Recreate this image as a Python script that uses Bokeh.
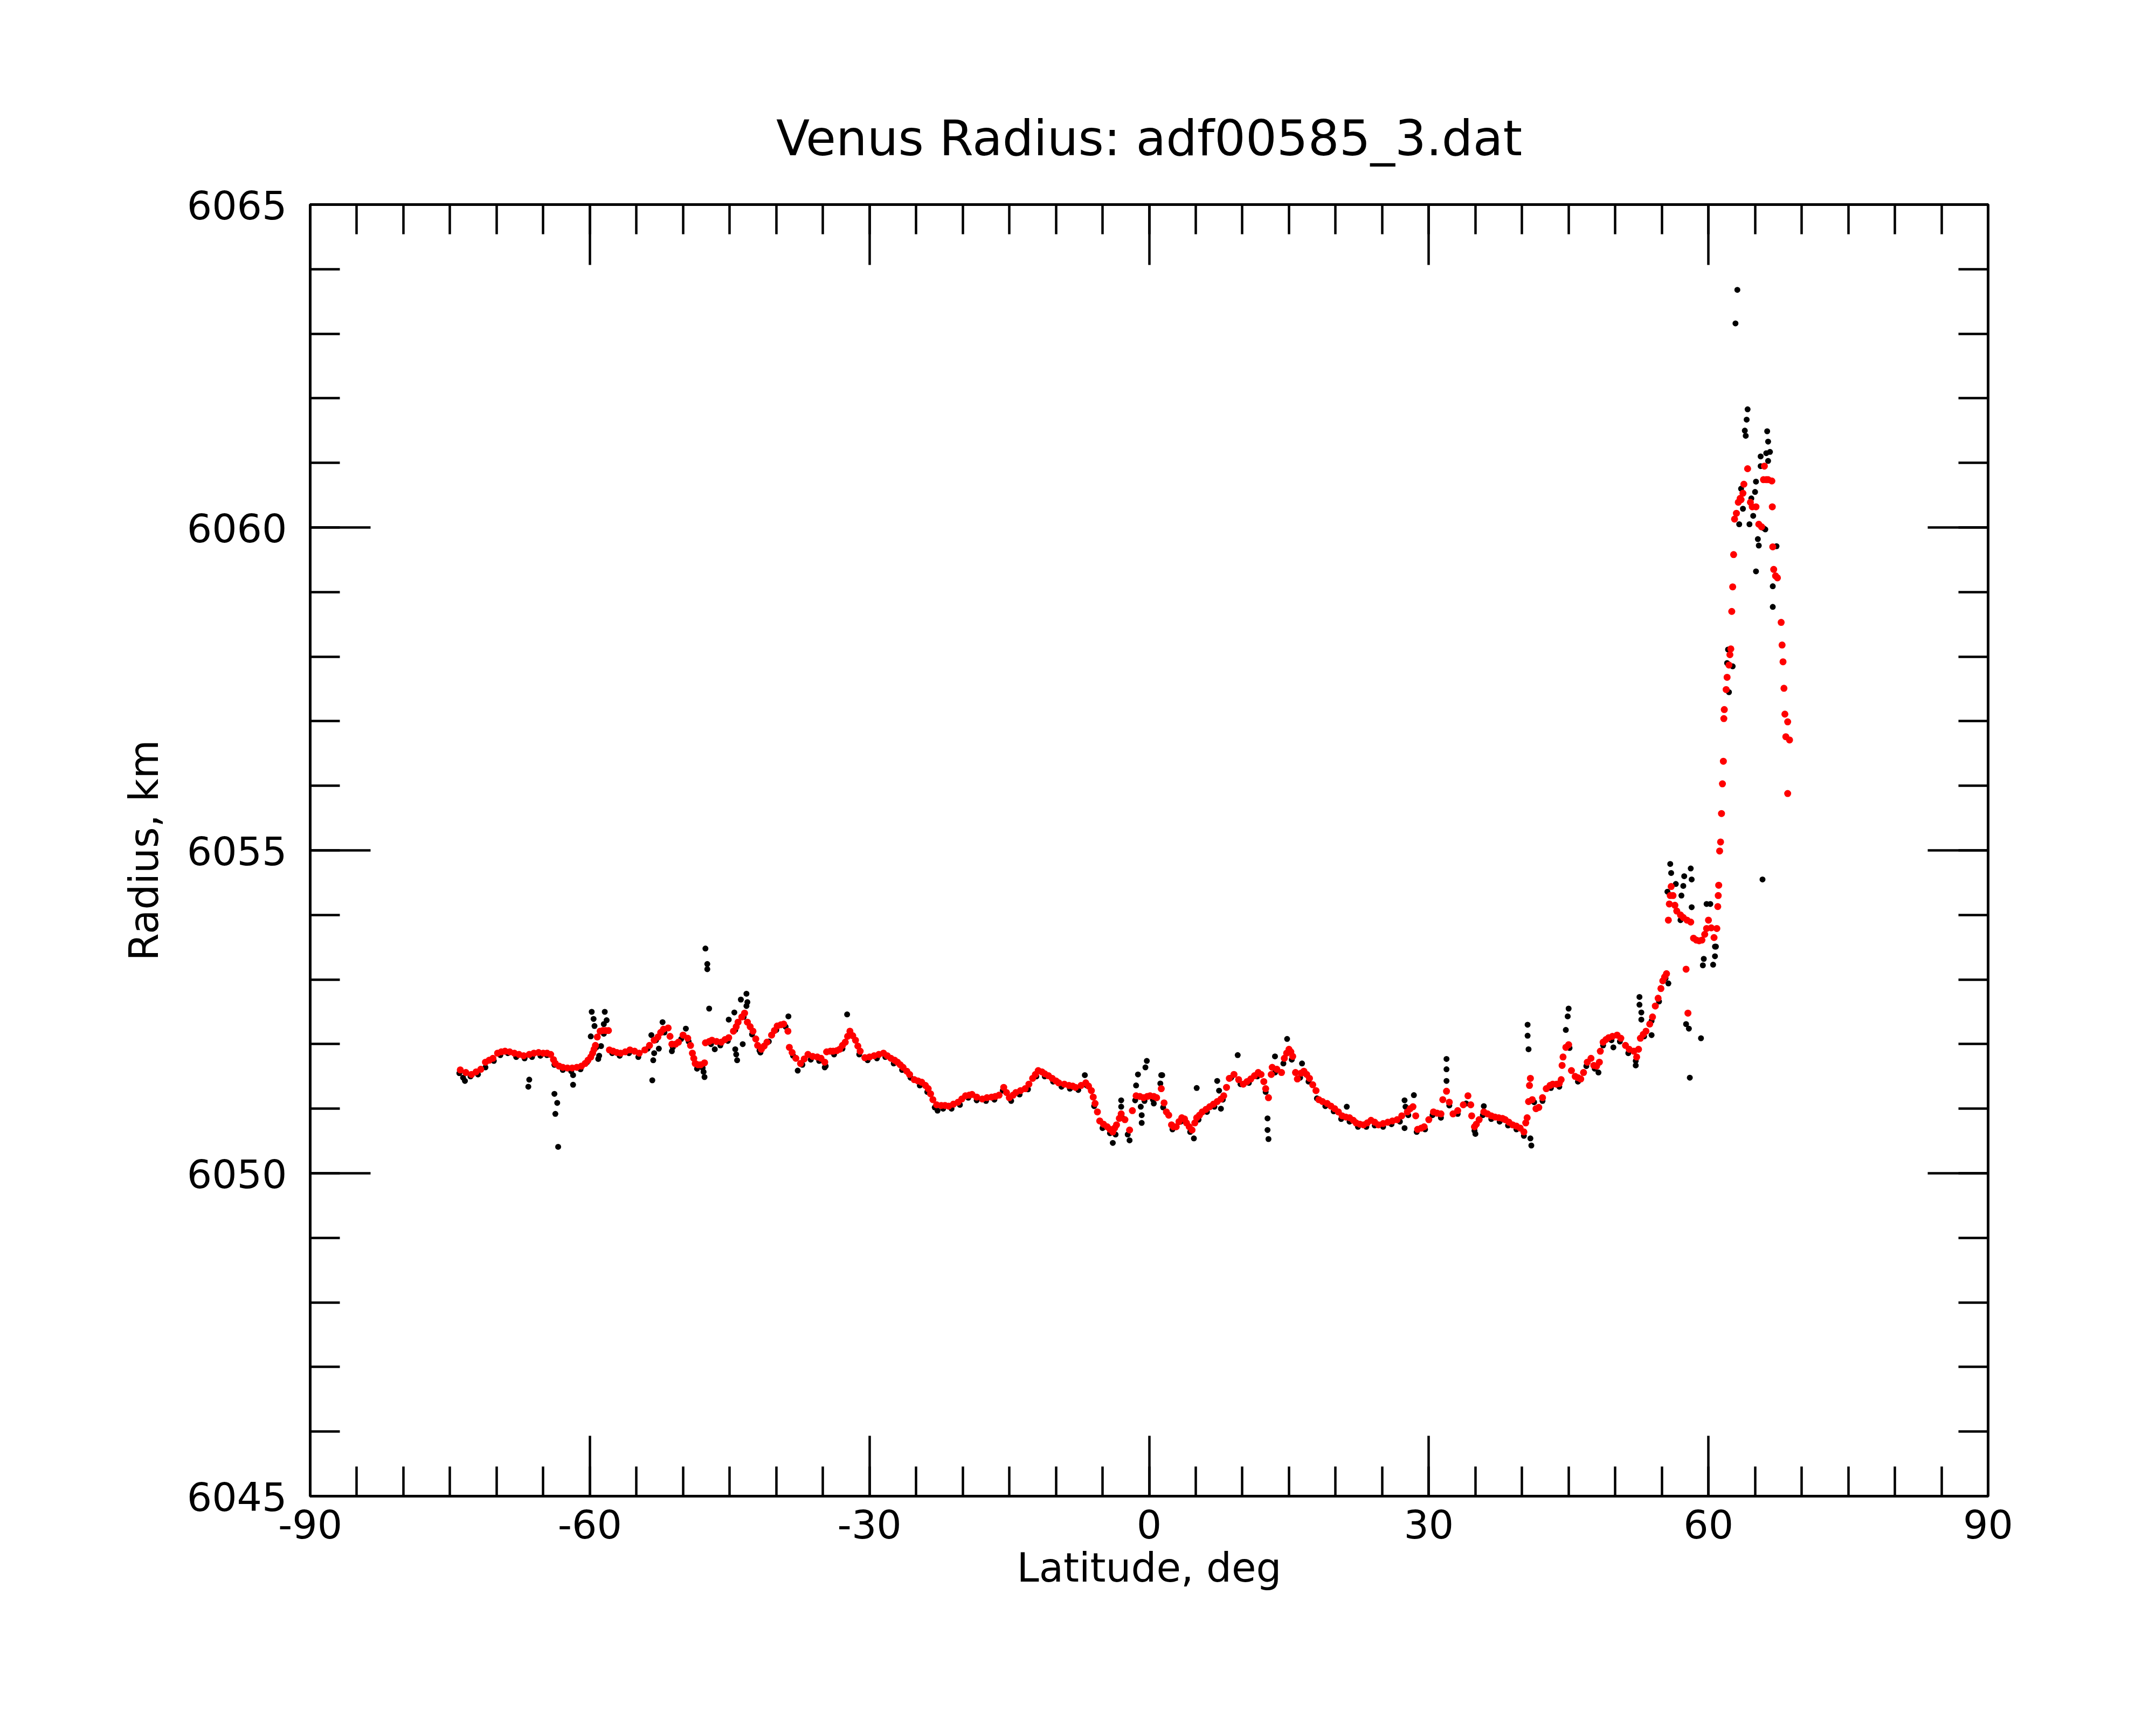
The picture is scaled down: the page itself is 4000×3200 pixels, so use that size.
from bokeh.plotting import figure
from bokeh.models import LinearAxis, SingleIntervalTicker, CustomJSTickFormatter, Range1d
from bokeh.embed import file_html
from bokeh.resources import INLINE

TITLE = "Venus Radius: adf00585_3.dat"
X_LABEL = "Latitude, deg"
Y_LABEL = "Radius, km"

# ---- smoothed radius (red), (latitude deg, radius km) ----
red_south = [
    (-73.9, 6051.60), (-73.3, 6051.56), (-72.7, 6051.53), (-72.2, 6051.57), (-71.7, 6051.61),
    (-71.2, 6051.72), (-70.8, 6051.75), (-70.4, 6051.78), (-69.9, 6051.86), (-69.5, 6051.88),
    (-69.1, 6051.89), (-68.6, 6051.88), (-68.1, 6051.86), (-67.6, 6051.84), (-67.1, 6051.82),
    (-66.5, 6051.84), (-66.0, 6051.86), (-65.5, 6051.87), (-65.0, 6051.86), (-64.6, 6051.86),
    (-64.2, 6051.84), (-63.9, 6051.76), (-63.7, 6051.70), (-63.3, 6051.66), (-62.9, 6051.64),
    (-62.4, 6051.63), (-61.9, 6051.63), (-61.4, 6051.64), (-60.9, 6051.66), (-60.5, 6051.70),
    (-60.2, 6051.75), (-59.9, 6051.80), (-59.7, 6051.86), (-59.55, 6051.92), (-59.4, 6051.98),
    (-59.2, 6052.11), (-58.9, 6052.20), (-58.6, 6052.21), (-58.3, 6052.21), (-58.0, 6052.21),
    (-57.9, 6051.91), (-57.5, 6051.89), (-57.1, 6051.87), (-56.7, 6051.86), (-56.2, 6051.88),
    (-55.7, 6051.91), (-55.2, 6051.89), (-54.7, 6051.86), (-54.1, 6051.91), (-53.6, 6051.98),
    (-53.1, 6052.06), (-52.7, 6052.11), (-52.4, 6052.18), (-52.1, 6052.23), (-51.6, 6052.25),
    (-51.4, 6052.12), (-51.2, 6052.00), (-50.8, 6052.00), (-50.5, 6052.03), (-50.0, 6052.14),
    (-49.5, 6052.09), (-49.2, 6051.98), (-49.0, 6051.86), (-48.85, 6051.78), (-48.7, 6051.70),
    (-48.4, 6051.68), (-48.1, 6051.68), (-47.7, 6051.71),
    (-47.6, 6052.02), (-47.2, 6052.04), (-46.9, 6052.06), (-46.4, 6052.04), (-45.9, 6052.03),
    (-45.5, 6052.07), (-45.1, 6052.10), (-44.6, 6052.20), (-44.3, 6052.27), (-44.1, 6052.34),
    (-43.7, 6052.42), (-43.4, 6052.48), (-43.1, 6052.34), (-42.8, 6052.27), (-42.5, 6052.20),
    (-42.2, 6052.08), (-42.0, 6051.98), (-41.6, 6051.92), (-41.3, 6051.97), (-41.0, 6052.03),
    (-40.5, 6052.14), (-40.2, 6052.21), (-39.9, 6052.28), (-39.5, 6052.30), (-39.2, 6052.31),
    (-38.75, 6052.20),
    (-38.6, 6051.95), (-38.3, 6051.87), (-37.9, 6051.78), (-37.4, 6051.70), (-37.0, 6051.77),
    (-36.6, 6051.84),
]

red_mid = [
    (-36.1, 6051.81), (-35.6, 6051.80), (-35.2, 6051.78), (-34.8, 6051.72), (-34.6, 6051.88),
    (-34.2, 6051.89), (-33.9, 6051.89), (-33.5, 6051.90), (-33.2, 6051.92), (-32.9, 6051.98),
    (-32.6, 6052.03), (-32.35, 6052.12), (-32.1, 6052.20), (-31.8, 6052.13), (-31.5, 6052.06),
    (-31.25, 6051.97), (-31.0, 6051.89), (-30.5, 6051.79), (-30.0, 6051.80), (-29.5, 6051.82),
    (-29.0, 6051.84), (-28.5, 6051.86), (-28.1, 6051.82), (-27.7, 6051.78), (-27.3, 6051.75),
    (-27.0, 6051.72), (-26.7, 6051.68), (-26.4, 6051.64), (-26.0, 6051.58), (-25.7, 6051.53),
    (-25.2, 6051.45), (-24.8, 6051.43), (-24.4, 6051.41), (-24.0, 6051.36), (-23.7, 6051.31),
    (-23.45, 6051.23), (-23.2, 6051.14), (-22.8, 6051.06), (-22.3, 6051.05), (-21.9, 6051.05),
    (-21.5, 6051.04), (-21.0, 6051.07), (-20.5, 6051.10), (-20.1, 6051.15), (-19.7, 6051.20),
    (-19.3, 6051.21), (-19.0, 6051.22), (-18.5, 6051.18), (-17.9, 6051.15), (-17.4, 6051.17),
    (-16.9, 6051.18), (-16.5, 6051.19), (-16.1, 6051.21), (-15.6, 6051.33), (-15.3, 6051.25),
    (-15.0, 6051.17), (-14.6, 6051.21), (-14.3, 6051.25), (-13.8, 6051.28), (-13.3, 6051.31),
    (-12.9, 6051.38), (-12.5, 6051.47), (-12.2, 6051.53), (-11.9, 6051.59), (-11.5, 6051.57),
    (-11.2, 6051.54), (-10.8, 6051.51), (-10.4, 6051.47), (-10.0, 6051.43), (-9.7, 6051.40),
    (-9.1, 6051.38), (-8.6, 6051.36), (-8.2, 6051.35), (-7.9, 6051.33), (-7.3, 6051.36),
    (-6.8, 6051.40), (-6.5, 6051.35), (-6.2, 6051.28), (-6.0, 6051.18), (-5.8, 6051.08),
    (-5.55, 6050.95), (-5.3, 6050.81), (-4.9, 6050.76), (-4.5, 6050.72), (-4.2, 6050.68),
    (-3.9, 6050.64), (-3.7, 6050.70), (-3.5, 6050.75), (-3.2, 6050.85), (-3.0, 6050.92),
    (-2.6, 6050.83), (-2.1, 6050.67), (-1.8, 6050.97), (-1.4, 6051.20), (-1.0, 6051.19),
    (-0.6, 6051.17), (-0.2, 6051.19), (0.1, 6051.20), (0.5, 6051.19), (0.8, 6051.17),
    (1.3, 6051.31), (1.6, 6051.09), (1.85, 6050.95), (2.1, 6050.90), (2.4, 6050.75),
    (2.6, 6050.72), (2.9, 6050.72), (3.2, 6050.80), (3.5, 6050.86), (3.8, 6050.84),
]

red_north = [
    (4.0, 6050.78), (4.3, 6050.72), (4.6, 6050.67), (4.9, 6050.78), (5.1, 6050.86),
    (5.4, 6050.90), (5.7, 6050.95), (6.1, 6050.99), (6.5, 6051.03), (6.9, 6051.07),
    (7.3, 6051.11), (7.7, 6051.15), (8.0, 6051.20), (8.3, 6051.33), (8.6, 6051.47),
    (9.1, 6051.53), (9.6, 6051.45), (10.1, 6051.38), (10.5, 6051.42), (10.9, 6051.46),
    (11.3, 6051.51), (11.7, 6051.56), (12.0, 6051.53), (12.3, 6051.42), (12.5, 6051.31),
    (12.8, 6051.17), (13.1, 6051.53), (13.2, 6051.64), (13.7, 6051.61), (14.2, 6051.56),
    (14.5, 6051.78), (14.75, 6051.86), (15.0, 6051.92), (15.2, 6051.88), (15.4, 6051.81),
    (15.7, 6051.56), (15.9, 6051.46), (16.3, 6051.55), (16.6, 6051.58), (16.9, 6051.53),
    (17.2, 6051.47), (17.55, 6051.37), (17.9, 6051.28), (18.2, 6051.14), (18.6, 6051.11),
    (19.1, 6051.08), (19.5, 6051.04), (19.9, 6051.00), (20.3, 6050.95), (20.7, 6050.89),
    (21.1, 6050.87), (21.5, 6050.86), (21.9, 6050.82), (22.2, 6050.78), (22.6, 6050.76),
    (23.0, 6050.75), (23.4, 6050.78), (23.8, 6050.82), (24.2, 6050.79), (24.6, 6050.75),
    (25.1, 6050.77), (25.6, 6050.79), (26.1, 6050.81), (26.6, 6050.83), (27.1, 6050.89),
    (27.7, 6050.95), (28.0, 6051.00), (28.3, 6051.03), (28.6, 6050.89), (28.8, 6050.68),
    (29.2, 6050.70), (29.5, 6050.72), (30.0, 6050.83), (30.5, 6050.95), (30.9, 6050.93),
    (31.3, 6050.92), (31.5, 6051.14), (31.9, 6051.27), (32.2, 6051.10), (32.6, 6050.92),
    (33.1, 6050.97), (33.7, 6051.06), (34.2, 6051.20), (34.5, 6051.06), (34.6, 6050.89),
    (34.9, 6050.72), (35.1, 6050.76), (35.4, 6050.83), (35.9, 6050.95), (36.3, 6050.92),
    (36.7, 6050.89), (37.1, 6050.87), (37.5, 6050.86), (37.9, 6050.85), (38.2, 6050.83),
    (38.6, 6050.79), (39.0, 6050.75), (39.4, 6050.73), (39.8, 6050.70), (40.2, 6050.64),
    (40.4, 6050.78), (40.55, 6050.86), (40.7, 6051.11), (40.8, 6051.36), (40.9, 6051.47),
]

red_polar = [
    (41.1, 6051.14), (41.5, 6051.00), (41.8, 6051.02), (42.2, 6051.17), (42.6, 6051.31),
    (43.0, 6051.36), (43.3, 6051.38), (43.7, 6051.38), (44.0, 6051.39), (44.2, 6051.45),
    (44.3, 6051.67), (44.4, 6051.80), (44.7, 6051.95), (45.0, 6051.99), (45.3, 6051.59),
    (45.7, 6051.50), (46.0, 6051.48), (46.3, 6051.46), (46.6, 6051.56), (47.0, 6051.72),
    (47.4, 6051.78), (47.7, 6051.67), (48.0, 6051.66), (48.3, 6051.72), (48.4, 6051.89),
    (48.7, 6052.03), (49.0, 6052.07), (49.3, 6052.10), (49.7, 6052.12), (50.2, 6052.14),
    (50.6, 6052.09), (51.1, 6051.98), (51.5, 6051.92), (52.0, 6051.89), (52.3, 6051.80),
    (52.5, 6051.92), (52.7, 6052.09), (53.0, 6052.15), (53.3, 6052.20), (53.7, 6052.31),
    (54.0, 6052.42), (54.3, 6052.59), (54.6, 6052.71), (54.9, 6052.86), (55.1, 6052.98),
    (55.3, 6053.04), (55.5, 6053.09), (57.6, 6053.16), (57.8, 6052.48),
    (55.7, 6053.92), (55.8, 6054.17), (55.9, 6054.30), (56.0, 6054.44), (56.2, 6054.30),
    (56.4, 6054.15), (56.6, 6054.06), (57.0, 6054.00), (57.3, 6053.96), (57.7, 6053.92),
    (58.1, 6053.89), (58.4, 6053.64), (58.7, 6053.61), (59.0, 6053.60), (59.3, 6053.61),
    (59.6, 6053.70), (59.8, 6053.79), (60.0, 6053.92), (60.3, 6053.80), (60.6, 6053.65),
    (60.9, 6053.79), (61.0, 6054.13), (61.05, 6054.30), (61.1, 6054.46), (61.2, 6054.99),
    (61.3, 6055.13), (61.4, 6055.57), (61.5, 6056.03), (61.6, 6056.38), (61.65, 6057.04),
    (61.7, 6057.18), (61.9, 6057.49), (62.0, 6057.68), (62.2, 6057.87), (62.3, 6058.03),
    (62.4, 6058.12), (62.5, 6058.70), (62.6, 6059.08), (62.7, 6059.58), (62.8, 6060.13),
    (63.0, 6060.22), (63.2, 6060.39), (63.4, 6060.45), (63.5, 6060.43), (63.7, 6060.53),
    (63.8, 6060.67), (64.2, 6060.91), (64.5, 6060.39), (64.7, 6060.32), (65.1, 6060.32),
    (65.4, 6060.05), (65.7, 6060.01), (65.9, 6060.74), (66.0, 6060.95), (66.2, 6060.74),
    (66.4, 6060.74), (66.8, 6060.72), (66.85, 6060.32), (66.9, 6059.70), (67.0, 6059.35),
    (67.2, 6059.25), (67.4, 6059.22), (67.8, 6058.53), (67.9, 6058.18), (68.0, 6057.92),
    (68.1, 6057.51), (68.2, 6057.11), (68.3, 6056.76), (68.5, 6056.99), (68.7, 6056.71),
    (68.5, 6055.88),
]

# ---- raw radius (black), main track ----
raw_track = [
    (-74.0, 6051.55), (-73.6, 6051.48), (-72.8, 6051.50), (-72.0, 6051.53), (-71.2, 6051.64),
    (-70.3, 6051.74), (-69.6, 6051.83), (-68.8, 6051.86), (-67.9, 6051.80), (-67.0, 6051.78),
    (-66.2, 6051.80), (-65.3, 6051.82), (-64.6, 6051.83), (-63.8, 6051.68), (-62.9, 6051.60),
    (-62.0, 6051.58), (-61.0, 6051.61), (-60.3, 6051.72), (-59.3, 6051.95), (-58.5, 6052.16),
    (-57.6, 6051.86), (-56.8, 6051.82), (-55.8, 6051.86), (-54.8, 6051.80), (-53.8, 6051.93),
    (-52.9, 6052.06), (-52.0, 6052.18), (-51.1, 6051.95), (-50.2, 6052.08), (-49.4, 6052.04),
    (-48.5, 6051.62), (-47.9, 6051.63), (-47.0, 6052.00), (-46.0, 6051.98), (-45.2, 6052.05),
    (-44.4, 6052.22), (-43.5, 6052.42), (-42.6, 6052.15), (-41.7, 6051.87), (-40.8, 6052.04),
    (-40.0, 6052.22), (-39.0, 6052.27), (-38.2, 6051.82), (-37.2, 6051.68), (-36.3, 6051.76),
    (-35.4, 6051.74), (-34.7, 6051.66), (-33.8, 6051.84), (-32.9, 6051.93), (-32.0, 6052.15),
    (-31.1, 6051.84), (-30.2, 6051.75), (-29.2, 6051.78), (-28.3, 6051.80), (-27.4, 6051.70),
    (-26.5, 6051.60), (-25.6, 6051.48), (-24.6, 6051.36), (-23.8, 6051.26), (-23.0, 6051.02),
    (-22.1, 6051.00), (-21.2, 6051.00), (-20.3, 6051.06), (-19.4, 6051.17), (-18.5, 6051.13),
    (-17.5, 6051.12), (-16.6, 6051.14), (-15.7, 6051.28), (-14.8, 6051.12), (-13.9, 6051.22),
    (-13.0, 6051.30), (-12.1, 6051.50), (-11.2, 6051.50), (-10.3, 6051.42), (-9.4, 6051.34),
    (-8.5, 6051.31), (-7.6, 6051.29), (-6.7, 6051.36), (-5.9, 6051.04), (-5.0, 6050.70),
    (-4.2, 6050.62), (-3.6, 6050.60), (-2.9, 6050.86), (-2.3, 6050.60), (-1.5, 6051.13),
    (-0.5, 6051.12), (0.4, 6051.14), (1.5, 6051.02), (2.5, 6050.68), (3.4, 6050.80),
    (4.4, 6050.64), (5.3, 6050.83), (6.2, 6050.95), (7.0, 6051.03), (7.9, 6051.14),
    (8.8, 6051.48), (9.8, 6051.38), (10.7, 6051.40), (11.6, 6051.50), (12.5, 6051.26),
    (13.5, 6051.56), (14.4, 6051.70), (15.3, 6051.76), (16.2, 6051.48), (17.1, 6051.42),
    (18.0, 6051.16), (18.9, 6051.04), (19.8, 6050.96), (20.6, 6050.84), (21.5, 6050.80),
    (22.4, 6050.72), (23.3, 6050.72), (24.2, 6050.74), (25.1, 6050.72), (26.0, 6050.76),
    (26.9, 6050.80), (27.8, 6050.90), (28.7, 6050.64), (29.6, 6050.68), (30.4, 6050.90),
    (31.3, 6050.86), (32.2, 6051.05), (33.1, 6050.92), (34.0, 6051.08), (34.9, 6050.66),
    (35.8, 6050.90), (36.7, 6050.84), (37.6, 6050.80), (38.5, 6050.74), (39.4, 6050.68),
    (40.2, 6050.58), (41.3, 6051.10), (42.2, 6051.12), (43.1, 6051.32), (44.0, 6051.34),
    (45.1, 6051.94), (46.0, 6051.42), (46.9, 6051.66), (47.8, 6051.62), (48.7, 6051.98),
    (49.6, 6052.06), (50.5, 6052.04), (51.4, 6051.86), (52.2, 6051.74), (53.1, 6052.12),
    (53.9, 6052.36), (54.7, 6052.66), (55.4, 6053.02),
]

# ---- raw radius (black), scattered points ----
raw_scatter_south = [
    (-73.4, 6051.43), (-66.5, 6051.45), (-66.6, 6051.34), (-63.8, 6051.23), (-63.5, 6051.09),
    (-63.7, 6050.92), (-63.4, 6050.41), (-61.8, 6051.52), (-61.8, 6051.37), (-59.8, 6052.50),
    (-59.6, 6052.39), (-59.5, 6052.28), (-59.9, 6052.12), (-58.8, 6051.97), (-59.0, 6051.82),
    (-59.1, 6051.77), (-58.4, 6052.50), (-58.2, 6052.37), (-58.5, 6052.31), (-53.3, 6051.44),
    (-53.2, 6051.75), (-53.1, 6051.86), (-53.4, 6052.14), (-52.2, 6052.34), (-52.6, 6051.93),
    (-51.2, 6051.89), (-49.7, 6052.24), (-47.7, 6051.49), (-47.8, 6051.57), (-47.6, 6053.48),
    (-47.4, 6053.24), (-47.4, 6053.16), (-47.2, 6052.55), (-43.2, 6052.78), (-43.8, 6052.69),
    (-43.1, 6052.65), (-43.2, 6052.59), (-44.5, 6052.49), (-45.1, 6052.38), (-44.4, 6051.92),
    (-44.3, 6051.84), (-44.2, 6051.75), (-43.6, 6052.00), (-46.6, 6051.92), (-38.7, 6052.43),
    (-37.7, 6051.59), (-41.8, 6051.90),
]

raw_scatter_mid = [
    (-32.4, 6052.46), (-34.8, 6051.64), (-22.7, 6050.97), (-3.9, 6050.47), (-2.1, 6050.51),
    (-3.0, 6051.13), (-3.0, 6051.03), (-1.4, 6051.36), (-1.2, 6051.53), (-0.4, 6051.64),
    (-0.25, 6051.74), (-0.9, 6051.03), (-0.8, 6050.90), (-0.8, 6050.78), (1.3, 6051.52),
    (1.2, 6051.39), (0.5, 6051.08), (-6.9, 6051.52), (1.4, 6051.52),
]

raw_scatter_north = [
    (4.8, 6050.54), (5.1, 6051.32), (9.5, 6051.83), (7.3, 6051.43), (7.5, 6051.28),
    (7.7, 6051.00), (12.7, 6050.85), (12.7, 6050.67), (12.8, 6050.53), (13.5, 6051.81),
    (14.8, 6052.08), (16.4, 6051.70), (31.9, 6051.77), (31.9, 6051.61), (31.9, 6051.43),
    (27.4, 6051.13), (27.5, 6051.03), (28.4, 6051.21), (27.4, 6050.70), (21.2, 6051.03),
    (35.9, 6051.04), (35.0, 6050.61), (40.6, 6052.30), (40.6, 6052.13), (40.7, 6051.92),
    (41.0, 6050.43), (40.9, 6050.54),
]

raw_scatter_polar = [
    (45.0, 6052.55), (44.9, 6052.43), (44.7, 6052.22), (48.2, 6051.56), (49.8, 6051.95),
    (52.6, 6052.73), (52.6, 6052.61), (52.8, 6052.49), (52.8, 6052.38), (53.9, 6052.14),
    (52.2, 6051.67), (55.7, 6052.94), (57.6, 6052.31), (57.9, 6052.24), (59.2, 6052.09),
    (58.0, 6051.48), (59.5, 6053.32), (59.4, 6053.22), (60.5, 6053.23), (60.7, 6053.36),
    (60.8, 6053.51), (63.1, 6063.68), (62.9, 6063.16), (64.2, 6061.83), (64.1, 6061.67),
    (63.9, 6061.50), (64.0, 6061.42), (66.3, 6061.49), (66.4, 6061.33), (66.6, 6061.17),
    (66.2, 6061.15), (66.4, 6061.03), (65.6, 6061.10), (65.6, 6060.95), (65.1, 6060.71),
    (65.0, 6060.55), (64.8, 6060.18), (64.4, 6060.05), (63.3, 6060.05), (63.7, 6060.29),
    (65.3, 6059.82), (65.4, 6059.72), (65.1, 6059.32), (65.9, 6059.99), (66.1, 6059.97),
    (67.3, 6059.71), (66.9, 6059.09), (66.9, 6058.77), (62.1, 6058.11), (62.0, 6057.90),
    (62.6, 6057.85), (62.2, 6057.45), (65.8, 6054.55), (55.9, 6054.79), (56.0, 6054.65),
    (57.4, 6054.60), (58.1, 6054.72), (58.2, 6054.55), (56.5, 6054.48), (57.3, 6054.45),
    (55.6, 6054.36), (57.1, 6054.30), (58.2, 6054.12), (59.8, 6054.17), (60.2, 6054.17),
    (60.7, 6053.51), (57.0, 6053.92), (63.5, 6060.60), (64.6, 6060.45),
]

X_RANGE = (-90, 90)
Y_RANGE = (6045, 6065)

red_pts = red_south + red_mid + red_north + red_polar
raw_pts = raw_track + raw_scatter_south + raw_scatter_mid + raw_scatter_north + raw_scatter_polar

red_x = [p[0] for p in red_pts]
red_y = [p[1] for p in red_pts]
raw_x = [p[0] for p in raw_pts]
raw_y = [p[1] for p in raw_pts]

FONT = "DejaVu Sans"

p = figure(width=3984, height=3184,
           x_range=Range1d(*X_RANGE), y_range=Range1d(*Y_RANGE),
           x_axis_location=None, y_axis_location=None,
           toolbar_location=None, output_backend="svg",
           min_border_left=575, min_border_right=296,
           min_border_top=379, min_border_bottom=409)

p.xgrid.visible = False
p.ygrid.visible = False
p.background_fill_color = "white"
p.border_fill_color = "white"
p.outline_line_color = "black"
p.outline_line_width = 5

p.title.text = TITLE
p.title.align = "center"
p.title.text_font = FONT
p.title.text_font_size = "91px"
p.title.text_font_style = "normal"
p.title.text_color = "black"
p.title.standoff = 141


def make_axis(interval, minor, labels):
    ax = LinearAxis(ticker=SingleIntervalTicker(interval=interval, num_minor_ticks=minor))
    ax.axis_line_width = 5
    ax.axis_line_color = "black"
    ax.major_tick_in = 112
    ax.major_tick_out = 0
    ax.minor_tick_in = 55
    ax.minor_tick_out = 0
    ax.major_tick_line_width = 4.5
    ax.minor_tick_line_width = 4.5
    ax.major_tick_line_color = "black"
    ax.minor_tick_line_color = "black"
    ax.major_label_text_font = FONT
    ax.major_label_text_font_size = "73px"
    ax.major_label_text_color = "black"
    ax.axis_label_text_font = FONT
    ax.axis_label_text_font_size = "74px"
    ax.axis_label_text_font_style = "normal"
    ax.axis_label_text_color = "black"
    if labels:
        ax.formatter = CustomJSTickFormatter(code="return tick.toFixed(0)")
    else:
        ax.formatter = CustomJSTickFormatter(code="return ''")
        ax.major_label_standoff = 0
    return ax


bottom = make_axis(30, 6, True)
bottom.axis_label = X_LABEL
bottom.major_label_standoff = 24
bottom.axis_label_standoff = 8
p.add_layout(bottom, "below")

top = make_axis(30, 6, False)
p.add_layout(top, "above")

left = make_axis(5, 5, True)
left.axis_label = Y_LABEL
left.major_label_standoff = 43
left.axis_label_standoff = 34
p.add_layout(left, "left")

right = make_axis(5, 5, False)
p.add_layout(right, "right")

p.scatter(raw_x, raw_y, size=11, fill_color="black", line_color="black", line_width=0)
p.scatter(red_x, red_y, size=13, fill_color="red", line_color="red", line_width=0)

open("out.html", "w").write(file_html(p, INLINE))
